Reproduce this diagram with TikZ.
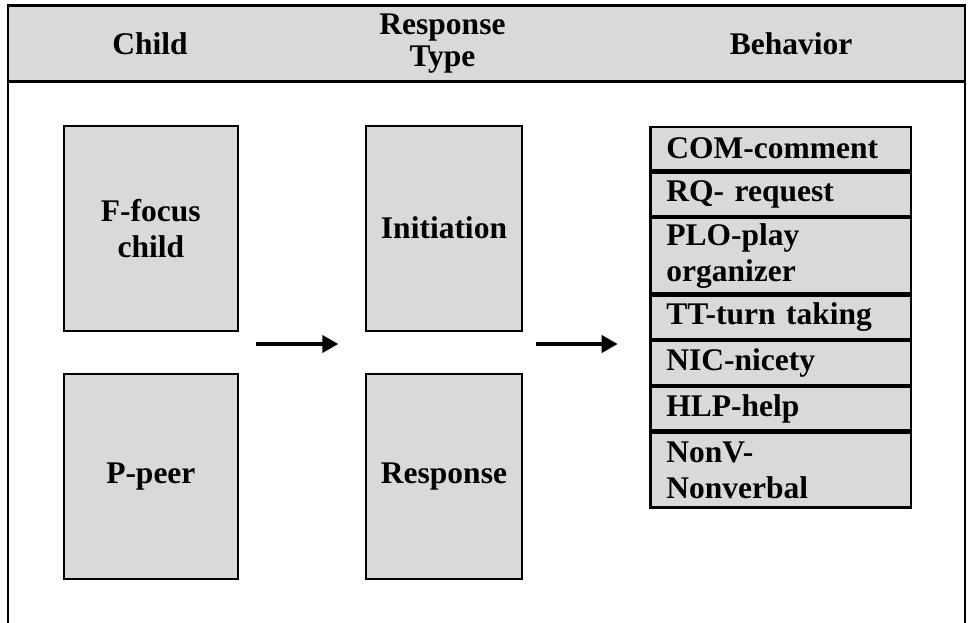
\documentclass[tikz,border=0pt]{standalone}
\usepackage{fontspec}
\setmainfont{Liberation Serif}
\usetikzlibrary{positioning,arrows.meta}
\definecolor{boxgray}{RGB}{217,217,217}
\tikzset{
  bigbox/.style={draw, line width=2.2pt, fill=boxgray, minimum height=205pt,
    align=center, inner sep=0pt, font=\bfseries\fontsize{31.5}{36}\selectfont},
  row/.style={draw, line width=2.2pt, fill=boxgray, minimum width=260.7pt,
    text width=228.7pt, inner xsep=16pt, inner ysep=0pt, minimum height=43.5pt,
    align=left, font=\bfseries\fontsize{31.5}{36}\selectfont},
  tworow/.style={row, minimum height=75pt},
  head/.style={align=center, inner sep=0pt, font=\bfseries\fontsize{31.5}{32}\selectfont},
  flow/.style={line width=3.8pt, -{Triangle[length=16pt,width=17pt]}}
}
\begin{document}
\begin{tikzpicture}[x=1pt,y=-1pt]
        \useasboundingbox (0,0) rectangle (969,623);
        % header band and frame
        \fill [boxgray] (8,5.3) rectangle (965,81.3);
        \draw [line width=2.8pt] (8,623) to (8,5.3) to (965,5.3) to (965,623);
        \draw [line width=2.8pt] (8,81.3) to (965,81.3);

        \node [head] (hchild) at (150,44) {Child};
        \node [head] (htype) at (442.5,44) {Response\\Type};
        \node [head] (hbeh) at (791,44) {Behavior};

        % child and response type boxes
        \node [bigbox, minimum width=173.7pt] (focus) at (150.85,228.2) {F-focus\\child};
        \node [bigbox, minimum width=173.7pt] (peer) at (150.85,476.5) {P-peer};
        \node [bigbox, minimum width=156pt] (init) at (444,228.2) {Initiation};
        \node [bigbox, minimum width=156pt] (resp) at (444,476.5) {Response};

        % behavior codes
        \node [row, anchor=north west] (com) at (649.3,125.7) {COM-comment};
        \node [row, below=0pt of com] (rq) {RQ- request};
        \node [tworow, below=0pt of rq] (plo) {PLO-play\\organizer};
        \node [row, below=0pt of plo] (tt) {TT-turn taking};
        \node [row, below=0pt of tt] (nic) {NIC-nicety};
        \node [row, below=0pt of nic] (hlp) {HLP-help};
        \node [tworow, below=0pt of hlp] (nonv) {NonV-\\Nonverbal};

        \coordinate (a1) at (256,344);
        \coordinate (b1) at (338.3,344);
        \coordinate (a2) at (536,344);
        \coordinate (b2) at (617.7,344);
        \draw [flow] (a1) to (b1);
        \draw [flow] (a2) to (b2);
      \end{tikzpicture}
\end{document}
